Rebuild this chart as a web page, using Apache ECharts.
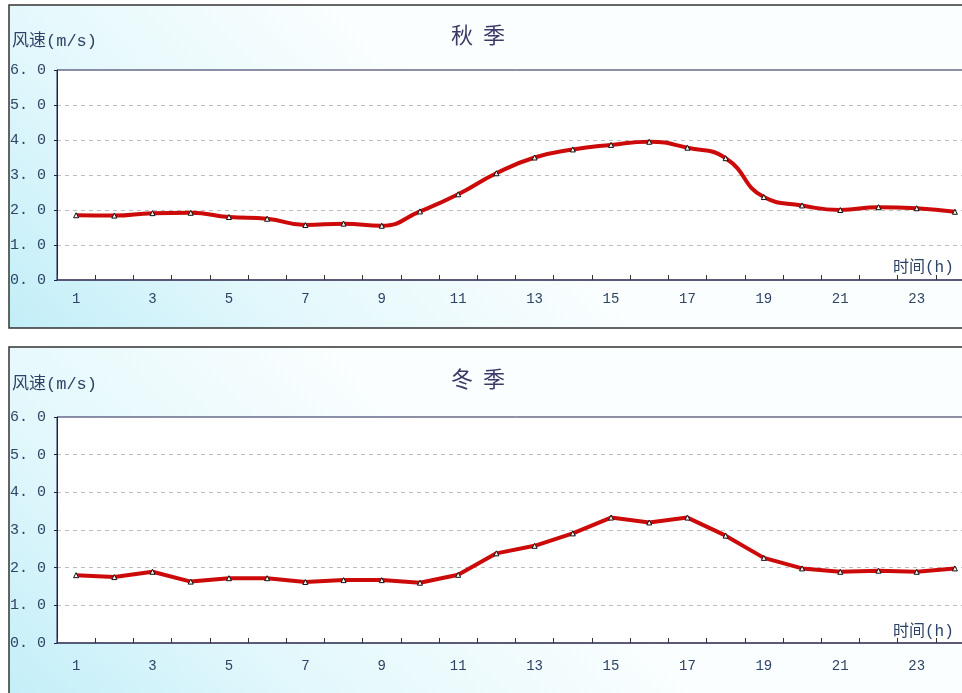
<!DOCTYPE html>
<html><head><meta charset="utf-8">
<script src="https://cdn.jsdelivr.net/npm/echarts@6/dist/echarts.min.js"></script>
<style>html,body{margin:0;padding:0;background:#fff;overflow:hidden}#c{width:976px;height:693px}</style>
</head><body><div id="c"></div>
<script>
var hours = ['1','2','3','4','5','6','7','8','9','10','11','12','13','14','15','16','17','18','19','20','21','22','23','24'];
var autumn = [1.85,1.84,1.91,1.92,1.80,1.75,1.57,1.61,1.55,1.96,2.45,3.05,3.50,3.73,3.86,3.95,3.78,3.48,2.37,2.13,2.00,2.08,2.05,1.95];
var winter = [1.80,1.75,1.89,1.63,1.72,1.72,1.62,1.67,1.67,1.60,1.81,2.38,2.58,2.91,3.33,3.20,3.33,2.85,2.26,1.98,1.89,1.92,1.89,1.98];
var titles = ['秋  季','冬  季'];
var yName = '风速(m/s)';
var xName = '时间(h)';

var chart = echarts.init(document.getElementById('c'));
var txtColor = '#2e4466';
var mono = '"Liberation Mono", "Noto Sans CJK SC", monospace';
function grad(){
  return new echarts.graphic.LinearGradient(0, 1, 0.35, 0, [
    {offset: 0, color: '#c2eef8'},
    {offset: 0.45, color: '#e3f8fc'},
    {offset: 1, color: '#fbfefe'}
  ]);
}
function yAxis(i){
  return {gridIndex:i, type:'value', min:0, max:6, interval:1,
    axisLine:{show:true, lineStyle:{color:'#202050'}},
    axisTick:{show:true, inside:false, length:3, lineStyle:{color:'#202050'}},
    splitLine:{show:true, showMaxLine:false, showMinLine:false, lineStyle:{color:'#bdbdbd', type:[4,4]}},
    axisLabel:{align:'left', margin:47, color:txtColor, fontFamily:mono, fontSize:15,
      formatter:function(v){return v.toFixed(1).replace('.', '. ');}}};
}
function xAxis(i, margin){
  return {gridIndex:i, type:'category', data:hours, boundaryGap:true,
    axisLine:{show:true, lineStyle:{color:'#4a4a6a', width:1.5}},
    axisTick:{show:true, inside:true, length:5, interval:0, lineStyle:{color:'#333'}},
    axisLabel:{interval:1, margin:margin, color:txtColor, fontFamily:mono, fontSize:14}};
}
function series(i, data, smooth){
  return {type:'line', xAxisIndex:i, yAxisIndex:i, data:data, smooth:smooth,
    symbol:'triangle', symbolSize:5, showSymbol:true,
    lineStyle:{color:'#cc0a0a', width:4},
    itemStyle:{color:'#f5f5f5', borderColor:'#111', borderWidth:1},
    emphasis:{disabled:true}, z:3};
}
var cjkMono = '"Liberation Mono", "Noto Sans CJK SC"';
chart.setOption({
  animation:false,
  backgroundColor:'#ffffff',
  graphic:[
    {type:'rect', z:-10, shape:{x:9, y:5, width:970, height:323}, style:{fill:grad(), stroke:'#333', lineWidth:1.5}},
    {type:'rect', z:-10, shape:{x:9, y:347, width:970, height:360}, style:{fill:grad(), stroke:'#333', lineWidth:1.5}},
    {type:'text', z:10, x:478, y:35, style:{text:titles[0], font:'22px "Noto Sans CJK SC"', fill:'#3a3a66', textAlign:'center', textVerticalAlign:'middle'}},
    {type:'text', z:10, x:478, y:379, style:{text:titles[1], font:'22px "Noto Sans CJK SC"', fill:'#3a3a66', textAlign:'center', textVerticalAlign:'middle'}},
    {type:'text', z:10, x:12, y:41, style:{text:yName, font:'17px ' + cjkMono, fill:txtColor, textVerticalAlign:'middle'}},
    {type:'text', z:10, x:12, y:384, style:{text:yName, font:'17px ' + cjkMono, fill:txtColor, textVerticalAlign:'middle'}},
    {type:'text', z:10, x:893, y:268, style:{text:xName, font:'16px ' + cjkMono, fill:txtColor, textVerticalAlign:'middle'}},
    {type:'text', z:10, x:893, y:632, style:{text:xName, font:'16px ' + cjkMono, fill:txtColor, textVerticalAlign:'middle'}}
  ],
  grid:[
    {left:57, top:70, width:917, height:210, show:true, backgroundColor:'#ffffff', borderColor:'#202050', borderWidth:1},
    {left:57, top:417, width:917, height:226, show:true, backgroundColor:'#ffffff', borderColor:'#202050', borderWidth:1}
  ],
  xAxis:[xAxis(0, 12), xAxis(1, 16)],
  yAxis:[yAxis(0), yAxis(1)],
  series:[series(0, autumn, true), series(1, winter, false)]
});
</script></body></html>
